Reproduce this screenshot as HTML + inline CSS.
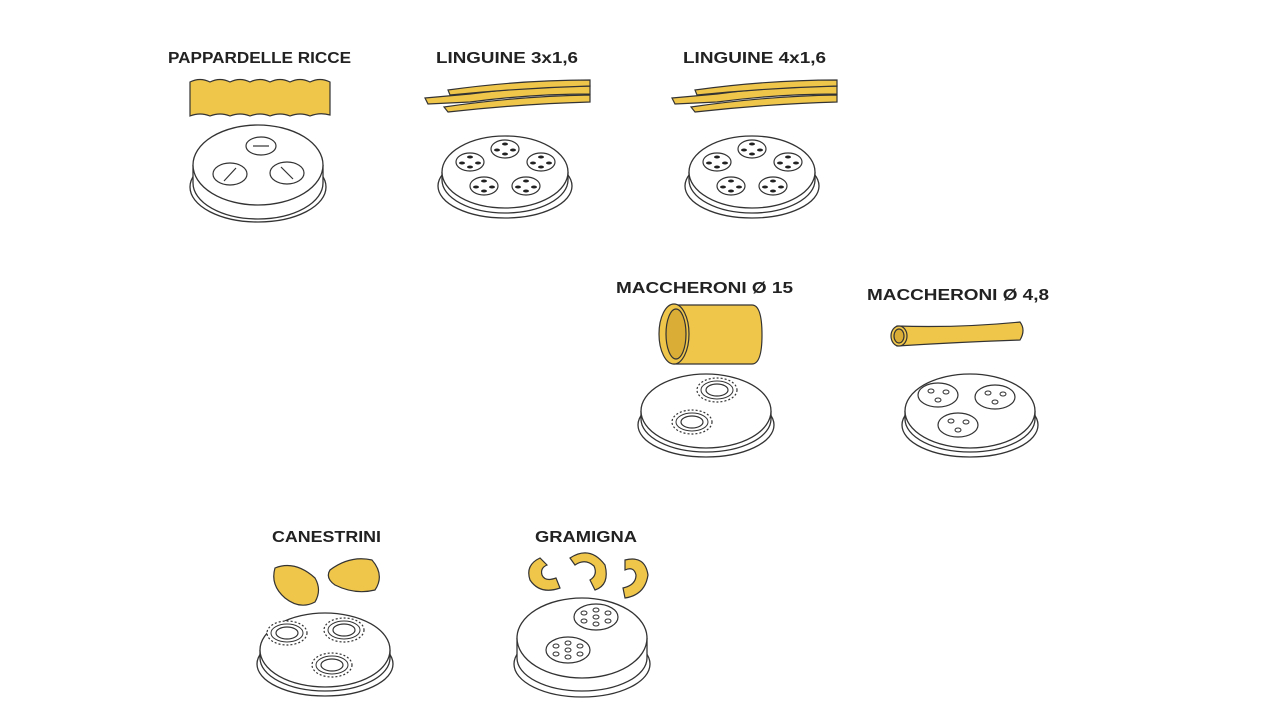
<!DOCTYPE html>
<html><head><meta charset="utf-8"><style>
html,body{margin:0;padding:0;background:#fff;width:1280px;height:720px;overflow:hidden}
text{font-family:"Liberation Sans",sans-serif;font-weight:bold;fill:#222;font-size:16px}
</style></head><body>
<svg width="1280" height="720" viewBox="0 0 1280 720" xmlns="http://www.w3.org/2000/svg">
<defs>
<g id="holeL"><ellipse rx="14" ry="9" fill="#fff" stroke="#333" stroke-width="1.2"/><ellipse cx="0" cy="-5" rx="3" ry="1.5" fill="#222"/><ellipse cx="-8" cy="1" rx="3" ry="1.5" fill="#222"/><ellipse cx="8" cy="1" rx="3" ry="1.5" fill="#222"/><ellipse cx="0" cy="5" rx="3" ry="1.5" fill="#222"/></g>
<g id="ring"><ellipse rx="20" ry="12" fill="#fff" stroke="#333" stroke-width="1.2" stroke-dasharray="2 2"/><ellipse rx="16" ry="9" fill="none" stroke="#333" stroke-width="1"/><ellipse rx="11" ry="6" fill="none" stroke="#333" stroke-width="1.2"/></g>
<g id="hole3"><ellipse rx="20" ry="12" fill="#fff" stroke="#333" stroke-width="1.2"/><ellipse cx="-7" cy="-4" rx="3" ry="2" fill="none" stroke="#333"/><ellipse cx="8" cy="-3" rx="3" ry="2" fill="none" stroke="#333"/><ellipse cx="0" cy="5" rx="3" ry="2" fill="none" stroke="#333"/></g>
<g id="hole6"><ellipse rx="22" ry="13" fill="#fff" stroke="#333" stroke-width="1.2"/><g fill="none" stroke="#333"><ellipse cx="-12" cy="-4" rx="3" ry="2"/><ellipse cx="0" cy="-7" rx="3" ry="2"/><ellipse cx="12" cy="-4" rx="3" ry="2"/><ellipse cx="-12" cy="4" rx="3" ry="2"/><ellipse cx="0" cy="7" rx="3" ry="2"/><ellipse cx="12" cy="4" rx="3" ry="2"/><ellipse cx="0" cy="0" rx="3" ry="2"/></g></g>
</defs>
<g fill="#fff" stroke="#333" stroke-width="1.3">
<!-- generic discs: flange, band, top -->
<!-- disc1 -->
<ellipse cx="258" cy="187" rx="68" ry="35"/><path d="M193 165 V183 A65 36 0 0 0 323 183 V165"/><ellipse cx="258" cy="165" rx="65" ry="40"/>
<!-- disc2 -->
<ellipse cx="505" cy="186" rx="67" ry="32"/><path d="M442 172 V180 A63 33 0 0 0 568 180 V172"/><ellipse cx="505" cy="172" rx="63" ry="36"/>
<!-- disc3 -->
<ellipse cx="752" cy="186" rx="67" ry="32"/><path d="M689 172 V180 A63 33 0 0 0 815 180 V172"/><ellipse cx="752" cy="172" rx="63" ry="36"/>
<!-- disc4 -->
<ellipse cx="706" cy="425" rx="68" ry="32"/><path d="M641 411 V419 A65 33 0 0 0 771 419 V411"/><ellipse cx="706" cy="411" rx="65" ry="37"/>
<!-- disc5 -->
<ellipse cx="970" cy="425" rx="68" ry="32"/><path d="M905 411 V419 A65 33 0 0 0 1035 419 V411"/><ellipse cx="970" cy="411" rx="65" ry="37"/>
<!-- disc6 -->
<ellipse cx="325" cy="664" rx="68" ry="32"/><path d="M260 650 V658 A65 33 0 0 0 390 658 V650"/><ellipse cx="325" cy="650" rx="65" ry="37"/>
<!-- disc7 -->
<ellipse cx="582" cy="664" rx="68" ry="33"/><path d="M517 638 V658 A65 33 0 0 0 647 658 V638"/><ellipse cx="582" cy="638" rx="65" ry="40"/>
</g>
<!-- disc1 holes -->
<g fill="#fff" stroke="#333" stroke-width="1.2">
<ellipse cx="261" cy="146" rx="15" ry="9"/><line x1="253" y1="146" x2="269" y2="146"/>
<ellipse cx="230" cy="174" rx="17" ry="11"/><line x1="224" y1="181" x2="236" y2="168"/>
<ellipse cx="287" cy="173" rx="17" ry="11"/><line x1="281" y1="167" x2="293" y2="179"/>
</g>
<use href="#holeL" x="505" y="149"/><use href="#holeL" x="470" y="162"/><use href="#holeL" x="541" y="162"/><use href="#holeL" x="484" y="186"/><use href="#holeL" x="526" y="186"/>
<use href="#holeL" x="752" y="149"/><use href="#holeL" x="717" y="162"/><use href="#holeL" x="788" y="162"/><use href="#holeL" x="731" y="186"/><use href="#holeL" x="773" y="186"/>
<use href="#ring" x="717" y="390"/><use href="#ring" x="692" y="422"/>
<use href="#hole3" x="938" y="395"/><use href="#hole3" x="995" y="397"/><use href="#hole3" x="958" y="425"/>
<use href="#ring" x="287" y="633"/><use href="#ring" x="344" y="630"/><use href="#ring" x="332" y="665"/>
<use href="#hole6" x="596" y="617"/><use href="#hole6" x="568" y="650"/>
<!-- pasta -->
<g fill="#f0c64a" stroke="#333" stroke-width="1.2">
<path d="M190 82 Q200 77 210 82 Q220 77 230 82 Q240 77 250 82 Q260 77 270 82 Q280 77 290 82 Q300 77 310 82 Q320 77 330 82 L330 115 Q320 112 310 116 Q300 112 290 116 Q280 112 270 116 Q260 112 250 116 Q240 112 230 116 Q220 112 210 116 Q200 112 190 116 Z"/>
<path d="M425 98 L470 94 Q530 86 590 86 L590 94 Q530 94 470 102 L428 104 Z"/>
<path d="M448 90 Q520 80 590 80 L590 86 Q520 88 450 95 Z"/>
<path d="M444 107 Q520 96 590 95 L590 102 Q520 104 448 112 Z"/>
<path d="M672 98 L717 94 Q777 86 837 86 L837 94 Q777 94 717 102 L675 104 Z"/>
<path d="M695 90 Q767 80 837 80 L837 86 Q767 88 697 95 Z"/>
<path d="M691 107 Q767 96 837 95 L837 102 Q767 104 695 112 Z"/>
<path d="M674 305 L752 305 Q762 305 762 335 Q762 364 752 364 L674 364 Z"/>
<ellipse cx="674" cy="334" rx="15" ry="30"/><ellipse cx="676" cy="334" rx="10" ry="25" fill="#d9ad36"/>
<path d="M897 326 Q960 328 1020 322 Q1026 330 1020 340 Q960 342 897 346 Z"/>
<ellipse cx="899" cy="336" rx="8" ry="10"/><ellipse cx="899" cy="336" rx="5" ry="7" fill="#d9ad36"/>
<path d="M275 568 Q295 560 315 578 Q322 590 315 602 Q300 610 285 598 Q270 585 275 568Z"/>
<path d="M330 570 Q350 555 372 560 Q385 575 375 590 Q355 595 335 585 Q325 578 330 570Z"/>
<path d="M540 558 Q525 565 530 580 Q540 595 560 588 L556 578 Q545 582 542 575 Q540 568 547 565 Z"/>
<path d="M570 558 Q590 545 605 565 Q610 585 595 590 L590 580 Q598 575 594 566 Q585 558 575 565 Z"/>
<path d="M625 560 Q645 555 648 575 Q645 595 625 598 L623 588 Q636 585 636 575 Q634 566 625 570 Z"/>
</g>
<text x="168" y="63" textLength="183" lengthAdjust="spacingAndGlyphs">PAPPARDELLE RICCE</text>
<text x="436" y="63" textLength="142" lengthAdjust="spacingAndGlyphs">LINGUINE 3x1,6</text>
<text x="683" y="63" textLength="143" lengthAdjust="spacingAndGlyphs">LINGUINE 4x1,6</text>
<text x="616" y="293" textLength="177" lengthAdjust="spacingAndGlyphs">MACCHERONI  Ø 15</text>
<text x="867" y="300" textLength="182" lengthAdjust="spacingAndGlyphs">MACCHERONI  Ø 4,8</text>
<text x="272" y="542" textLength="109" lengthAdjust="spacingAndGlyphs">CANESTRINI</text>
<text x="535" y="542" textLength="102" lengthAdjust="spacingAndGlyphs">GRAMIGNA</text>
</svg>
</body></html>
